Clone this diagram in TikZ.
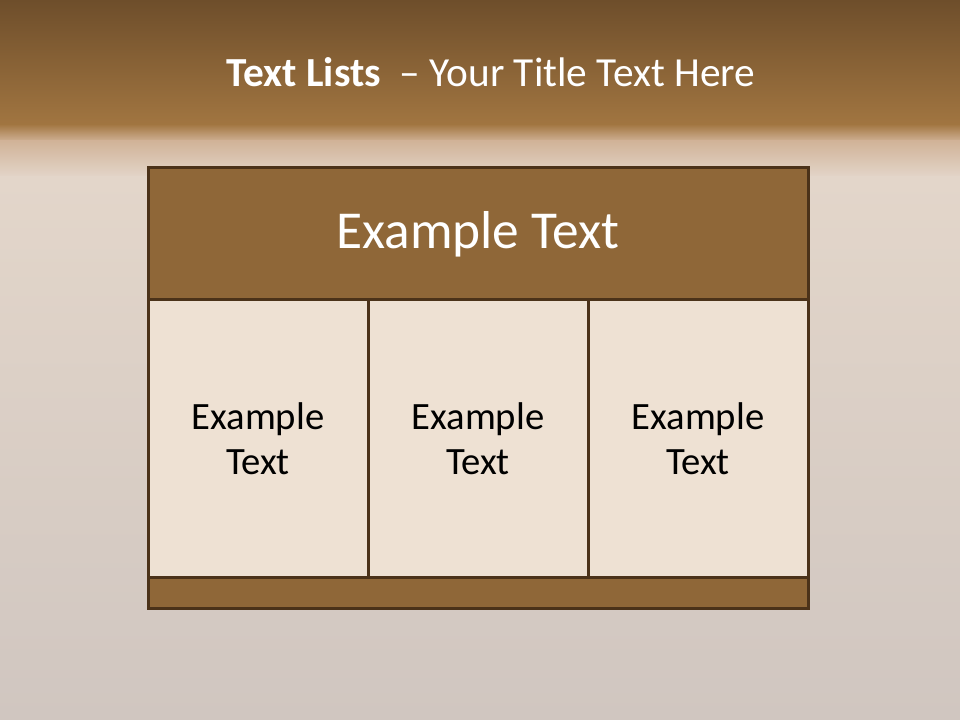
\documentclass[tikz,border=0pt]{standalone}
\usepackage{fontspec}
\setmainfont{Carlito}
\usepackage{xcolor}
\usetikzlibrary{positioning}
\definecolor{bartop}{HTML}{6E4E2B}
\definecolor{barlow}{HTML}{A27641}
\definecolor{barfade}{HTML}{D1B398}
\definecolor{paperhi}{HTML}{E3D6CA}
\definecolor{paperlo}{HTML}{D0C6C0}
\definecolor{boxbrown}{HTML}{8F6738}
\definecolor{boxcream}{HTML}{EEE1D3}
\definecolor{boxline}{HTML}{4B3219}

\begin{document}
\begin{tikzpicture}[x=0.75pt,y=-0.75pt,
  frame/.style={draw=boxline,line width=2.25pt,outer sep=0pt,inner sep=0pt},
  header/.style={frame,fill=boxbrown,minimum width=495pt,minimum height=99pt,text=white,font=\fontsize{40}{48}\selectfont},
  cell/.style={frame,fill=boxcream,minimum width=165pt,minimum height=207.75pt,align=center,font=\fontsize{29}{34}\selectfont},
  band/.style={frame,fill=boxbrown,minimum width=495pt,minimum height=23.25pt}
]
% background
\useasboundingbox (0,0) rectangle (960,720);
\shade[top color=bartop,bottom color=barlow] (0,0) rectangle (960,127);
\shade[top color=barlow!90!barfade,bottom color=barfade] (0,126) rectangle (960,142);
\shade[top color=barfade,bottom color=paperhi] (0,141) rectangle (960,178);
\shade[top color=paperhi,bottom color=paperlo] (0,177) rectangle (960,720);

\node[anchor=base,text=white,font=\fontsize{31}{37}\selectfont] (title) at (491,87)
  {\textbf{Text Lists}\ \ – Your Title Text Here};

% table
\node[header] (hdr) at (478,234) {Example Text};
\node[cell,below right=0pt of hdr.south west] (c1) {Example\\Text};
\node[cell,right=0pt of c1] (c2) {Example\\Text};
\node[cell,right=0pt of c2] (c3) {Example\\Text};
\node[band,below=0pt of c2] (foot) {};
\end{tikzpicture}
\end{document}
